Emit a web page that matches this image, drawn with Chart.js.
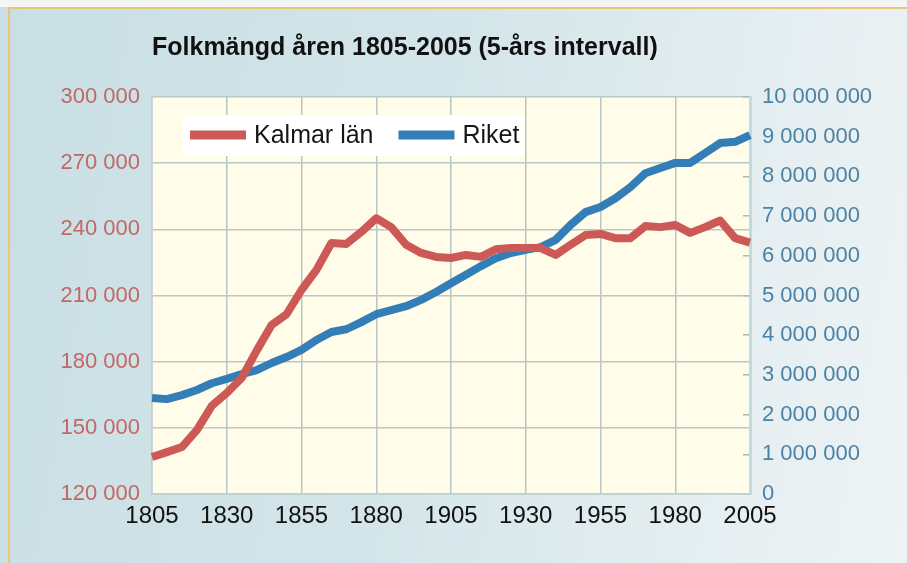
<!DOCTYPE html>
<html>
<head>
<meta charset="utf-8">
<title>Folkmängd åren 1805-2005</title>
<script src="https://cdn.jsdelivr.net/npm/chart.js@4.4.1/dist/chart.umd.min.js"></script>
<style>
  html, body { margin: 0; padding: 0; background: #f2f5f6; }
  #wrap {
    position: absolute; left: 0; top: 0; width: 907px; height: 563px; overflow: hidden;
    background: linear-gradient(100deg, #c9dfe4 0%, #d3e5e9 45%, #e3edf0 75%, #eef3f5 100%);
  }
  #frame {
    position: absolute; left: 8px; top: 7px; width: 920px; height: 580px;
    border-left: 2px solid #ebc47e; border-top: 2px solid #ebc47e;
  }
  #topstrip { position: absolute; left: 0; top: 0; width: 907px; height: 7px; background: #f4f6f6; }
  canvas { position: absolute; left: 0; top: 0; }
</style>
</head>
<body>
<div id="wrap">
  <div id="topstrip"></div>
  <div id="frame"></div>
  <canvas id="chart" width="907" height="563"></canvas>
</div>
<script>
// ===== DATA =====

const titleText = "Folkmängd åren 1805-2005 (5-års intervall)";

const years = [
  1805, 1810, 1815, 1820, 1825, 1830, 1835, 1840, 1845, 1850,
  1855, 1860, 1865, 1870, 1875, 1880, 1885, 1890, 1895, 1900,
  1905, 1910, 1915, 1920, 1925, 1930, 1935, 1940, 1945, 1950,
  1955, 1960, 1965, 1970, 1975, 1980, 1985, 1990, 1995, 2000,
  2005
];

const kalmar = [
  136800, 139000, 141300, 149000, 160000, 165800, 172600, 185000, 196600, 201500,
  212500, 221600, 233800, 233400, 238800, 245000, 241000, 233000, 229300, 227500,
  227000, 228400, 227500, 231000, 231500, 231500, 231500, 228400, 233000, 237400,
  237900, 236000, 236000, 241500, 241000, 242000, 238400, 241000, 244000, 236000,
  234000
];

const riket = [
  2420000, 2390000, 2490000, 2620000, 2790000, 2900000, 3020000, 3120000, 3300000, 3450000,
  3630000, 3880000, 4080000, 4150000, 4330000, 4530000, 4630000, 4730000, 4890000, 5090000,
  5310000, 5520000, 5740000, 5940000, 6070000, 6150000, 6220000, 6400000, 6780000, 7100000,
  7230000, 7450000, 7730000, 8080000, 8210000, 8340000, 8340000, 8590000, 8840000, 8870000,
  9040000
];

// every 25th year gets a label and a grid line
const yearLabels = [1805, 1830, 1855, 1880, 1905, 1930, 1955, 1980, 2005];

const leftMin = 120000, leftMax = 300000, leftStep = 30000;
const rightMin = 0, rightMax = 10000000, rightStep = 1000000;

const RED = "#cc5955";
const BLUE = "#347eb8";
const FONT = "'Liberation Sans', Arial, sans-serif";

function spaced(v) {
  return String(v).replace(/\B(?=(\d{3})+(?!\d))/g, " ");
}

//
// ===== PLUGINS =====
//

const plotBackground = {
  id: "plotBackground",
  beforeDraw(chart) {
    const { ctx, chartArea: a } = chart;
    ctx.save();
    ctx.fillStyle = "#fffde9";
    ctx.fillRect(a.left, a.top, a.right - a.left, a.bottom - a.top);
    ctx.restore();
  }
};

// legend sits inside the plot on a white box
const legendBox = {
  id: "legendBox",
  afterDatasetsDraw(chart) {
    const { ctx, chartArea: a } = chart;
    const sample = 56, gap = 8, between = 25;
    ctx.save();
    ctx.font = "25px " + FONT;
    const items = chart.data.datasets.map(ds => ({
      text: ds.label,
      color: ds.borderColor,
      w: ctx.measureText(ds.label).width
    }));
    const total = items.reduce((s, it, i) => s + sample + gap + it.w + (i ? between : 0), 0);
    let x = a.left + 38;
    const y = a.top + 38;
    ctx.fillStyle = "#ffffff";
    ctx.fillRect(x - 7, y - 20, total + 12, 41);
    ctx.textBaseline = "middle";
    items.forEach(it => {
      ctx.fillStyle = it.color;
      ctx.fillRect(x, y - 4.5, sample, 9);
      ctx.fillStyle = "#151515";
      ctx.fillText(it.text, x + sample + gap, y + 1);
      x += sample + gap + it.w + between;
    });
    ctx.restore();
  }
};

//
// ===== CHART =====
//

const ctx = document.getElementById("chart");

new Chart(ctx, {
  type: "line",
  data: {
    labels: years.map(String),
    datasets: [
      {
        label: "Kalmar län",
        data: kalmar,
        yAxisID: "y",
        borderColor: RED,
        backgroundColor: RED,
        borderWidth: 8,
        pointRadius: 0,
        tension: 0,
        borderJoinStyle: "round"
      },
      {
        label: "Riket",
        data: riket,
        yAxisID: "y1",
        borderColor: BLUE,
        backgroundColor: BLUE,
        borderWidth: 8,
        pointRadius: 0,
        tension: 0,
        borderJoinStyle: "round"
      }
    ]
  },
  options: {
    responsive: false,
    animation: false,
    devicePixelRatio: 1,
    layout: { padding: 0 },
    plugins: {
      title: {
        display: true,
        text: titleText,
        align: "start",
        fullSize: false,
        color: "#111111",
        font: { family: FONT, size: 25, weight: "bold" },
        padding: { top: 33, bottom: 34 }
      },
      legend: { display: false },
      tooltip: { enabled: false }
    },
    scales: {
      x: {
        type: "category",
        offset: false,
        afterFit(s) { s.height = 69; },
        grid: {
          color: "#b9c6c4",
          lineWidth: 1.5,
          drawTicks: false
        },
        border: { color: "#bcd0d4", width: 1.5 },
        ticks: {
          autoSkip: false,
          maxRotation: 0,
          padding: 8,
          color: "#111111",
          font: { family: FONT, size: 24 },
          callback(value, index) {
            const yr = years[index];
            return yearLabels.includes(yr) ? String(yr) : null;
          }
        }
      },
      y: {
        position: "left",
        min: leftMin,
        max: leftMax,
        afterFit(s) { s.width = 152; },
        grid: {
          color: "#b9c8c8",
          lineWidth: 1.5,
          drawTicks: false
        },
        border: { color: "#bcd0d4", width: 1.5 },
        ticks: {
          stepSize: leftStep,
          padding: 12,
          color: "#c26865",
          font: { family: FONT, size: 22 },
          callback: v => spaced(v)
        }
      },
      y1: {
        position: "right",
        min: rightMin,
        max: rightMax,
        afterFit(s) { s.width = 157; },
        grid: {
          drawOnChartArea: false,
          drawTicks: true,
          tickLength: -7,
          color: "#a9b9ba",
          lineWidth: 1.5
        },
        border: { color: "#c0dbe3", width: 3 },
        ticks: {
          stepSize: rightStep,
          padding: 19,
          color: "#4b83a6",
          font: { family: FONT, size: 22 },
          callback: v => spaced(v)
        }
      }
    }
  },
  plugins: [plotBackground, legendBox]
});
</script>
</body>
</html>
